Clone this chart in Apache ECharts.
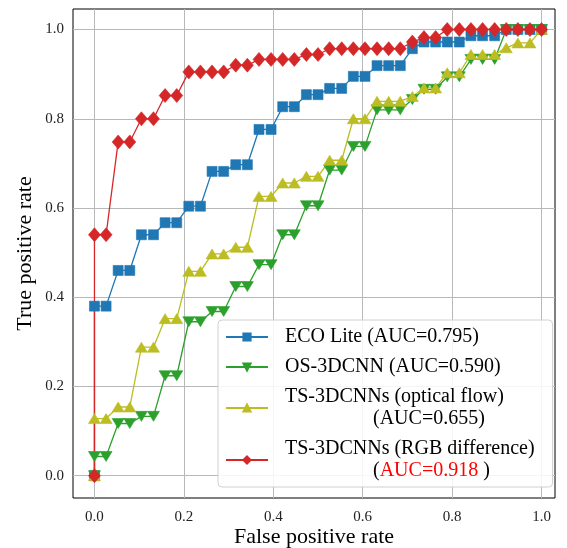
<!DOCTYPE html>
<html>
<head>
<meta charset="utf-8">
<script src="https://cdn.jsdelivr.net/npm/echarts@6/dist/echarts.min.js"></script>
<style>
html,body{margin:0;padding:0;background:#fff;}
#chart{width:567px;height:548px;}
</style>
</head>
<body>
<div id="chart"></div>
<script>
// False positive rate (shared by all curves); the first point is the ROC origin
const fpr = [0, 0, 0.026, 0.053, 0.079, 0.105, 0.132, 0.158, 0.184, 0.211, 0.237,
  0.263, 0.289, 0.316, 0.342, 0.368, 0.395, 0.421, 0.447, 0.474, 0.500,
  0.526, 0.553, 0.579, 0.605, 0.632, 0.658, 0.684, 0.711, 0.737, 0.763,
  0.789, 0.816, 0.842, 0.868, 0.895, 0.921, 0.947, 0.974, 1.000];

const tprEco = [0, 0.38, 0.38, 0.46, 0.46, 0.54, 0.54, 0.567, 0.567, 0.604, 0.604,
  0.682, 0.682, 0.697, 0.697, 0.776, 0.776, 0.827, 0.827, 0.854, 0.854,
  0.868, 0.868, 0.895, 0.895, 0.919, 0.919, 0.919, 0.957, 0.972, 0.972,
  0.972, 0.972, 0.986, 0.986, 0.986, 1, 1, 1, 1];

const tprOS = [0, 0.043, 0.043, 0.117, 0.117, 0.133, 0.133, 0.224, 0.224, 0.345, 0.345,
  0.368, 0.368, 0.424, 0.424, 0.473, 0.473, 0.540, 0.540, 0.605, 0.605,
  0.685, 0.685, 0.738, 0.738, 0.820, 0.820, 0.820, 0.843, 0.866, 0.866,
  0.894, 0.894, 0.933, 0.933, 0.933, 1, 1, 1, 1];

const tprFlow = [0, 0.128, 0.128, 0.154, 0.154, 0.288, 0.288, 0.352, 0.352, 0.458, 0.458,
  0.497, 0.497, 0.512, 0.512, 0.626, 0.626, 0.656, 0.656, 0.671, 0.671,
  0.707, 0.707, 0.800, 0.800, 0.839, 0.839, 0.839, 0.850, 0.869, 0.869,
  0.903, 0.903, 0.944, 0.944, 0.944, 0.959, 0.970, 0.970, 1];

const tprRGB = [0, 0.54, 0.54, 0.748, 0.748, 0.80, 0.80, 0.852, 0.852, 0.905, 0.905,
  0.905, 0.905, 0.92, 0.92, 0.933, 0.933, 0.933, 0.933, 0.944, 0.944,
  0.957, 0.957, 0.957, 0.957, 0.957, 0.957, 0.957, 0.972, 0.982, 0.982,
  1, 1, 1, 1, 1, 1, 1, 1, 1];

const seriesNames = ['ECO Lite (AUC=0.795)', 'OS-3DCNN (AUC=0.590)',
  'TS-3DCNNs (optical flow) (AUC=0.655)', 'TS-3DCNNs (RGB difference) (AUC=0.918)'];
const tickValues = [0, 0.2, 0.4, 0.6, 0.8, 1.0];
const xTitle = 'False positive rate';
const yTitle = 'True positive rate';

const FONT = '"Liberation Serif", "Times New Roman", serif';
const pairs = t => fpr.map((x, i) => [x, t[i]]);

const chart = echarts.init(document.getElementById('chart'), null, {renderer: 'canvas'});

function mkSeries(name, data, color, symbol, size, rotate) {
  return {
    type: 'line', name: name, data: pairs(data),
    symbol: symbol, symbolSize: size, symbolRotate: rotate || 0,
    lineStyle: {color: color, width: 1.3},
    itemStyle: {color: color, borderColor: color, borderWidth: 0.6},
    emphasis: {disabled: true}, z: 10, clip: false
  };
}

const legendFmt = {};
legendFmt[seriesNames[0]] = '{n|ECO Lite (AUC=0.795)}';
legendFmt[seriesNames[1]] = '{n|OS-3DCNN (AUC=0.590)}';
legendFmt[seriesNames[2]] = '{n|TS-3DCNNs (optical flow)}\n{i|(AUC=0.655)}';
legendFmt[seriesNames[3]] = '{n|TS-3DCNNs (RGB difference)}\n{i|(}{r|AUC=0.918}{k| )}';

const option = {
  animation: false,
  backgroundColor: '#fff',
  grid: {left: 73, top: 9, width: 482, height: 489, show: true,
    outerBoundsMode: 'none', containLabel: false,
    borderColor: '#000', borderWidth: 1, backgroundColor: 'transparent'},
  xAxis: {
    type: 'value', min: -0.048, max: 1.03,
    axisLine: {show: false}, splitLine: {show: false},
    axisTick: {show: true, customValues: tickValues, length: 5, lineStyle: {color: '#000', width: 1}},
    axisLabel: {customValues: tickValues, formatter: v => v.toFixed(1), margin: 12,
      fontFamily: FONT, fontSize: 15, color: '#222'},
    name: xTitle, nameLocation: 'middle', nameGap: 28, nameMoveOverlap: false,
    nameTextStyle: {fontFamily: FONT, fontSize: 22, color: '#000', verticalAlign: 'top', lineHeight: 22}
  },
  yAxis: {
    type: 'value', min: -0.05, max: 1.046,
    axisLine: {show: false}, splitLine: {show: false},
    axisTick: {show: true, customValues: tickValues, length: 5, lineStyle: {color: '#000', width: 1}},
    axisLabel: {customValues: tickValues, formatter: v => v.toFixed(1), margin: 9,
      fontFamily: FONT, fontSize: 15, color: '#222'},
    name: yTitle, nameLocation: 'middle', nameGap: 37, nameMoveOverlap: false,
    nameTextStyle: {fontFamily: FONT, fontSize: 22, color: '#000'}
  },
  legend: {
    orient: 'vertical', left: 218, top: 320, z: 20,
    padding: [6, 18, 5, 7], itemGap: 8, itemWidth: 42, itemHeight: 9,
    backgroundColor: 'rgba(255,255,255,0.85)', borderColor: '#d0d0d0', borderWidth: 1, borderRadius: 4,
    data: seriesNames,
    formatter: name => legendFmt[name],
    textStyle: {
      fontFamily: FONT, fontSize: 20, color: '#000', lineHeight: 22,
      rich: {
        n: {fontFamily: FONT, fontSize: 20, color: '#000', lineHeight: 22, padding: [0, 0, 0, 12]},
        i: {fontFamily: FONT, fontSize: 20, color: '#000', lineHeight: 22, padding: [0, 0, 0, 100]},
        r: {fontFamily: FONT, fontSize: 20, color: '#ff0000', lineHeight: 22},
        k: {fontFamily: FONT, fontSize: 20, color: '#000', lineHeight: 22}
      }
    }
  },
  series: [
    {
      type: 'line', name: '_grid', data: [], silent: true, z: 1,
      markLine: {
        silent: true, z: 1, symbol: ['none', 'none'], label: {show: false},
        lineStyle: {color: '#b8b8b8', width: 1, type: 'solid'},
        emphasis: {disabled: true},
        data: tickValues.map(v => ({xAxis: v})).concat(tickValues.map(v => ({yAxis: v})))
      }
    },
    mkSeries(seriesNames[0], tprEco, '#1f77b4', 'rect', 10),
    mkSeries(seriesNames[1], tprOS, '#2ca02c', 'triangle', [12, 10], 180),
    mkSeries(seriesNames[2], tprFlow, '#bcbd22', 'triangle', [12, 10]),
    mkSeries(seriesNames[3], tprRGB, '#d62728', 'diamond', [12, 14])
  ]
};
chart.setOption(option);
</script>
</body>
</html>
